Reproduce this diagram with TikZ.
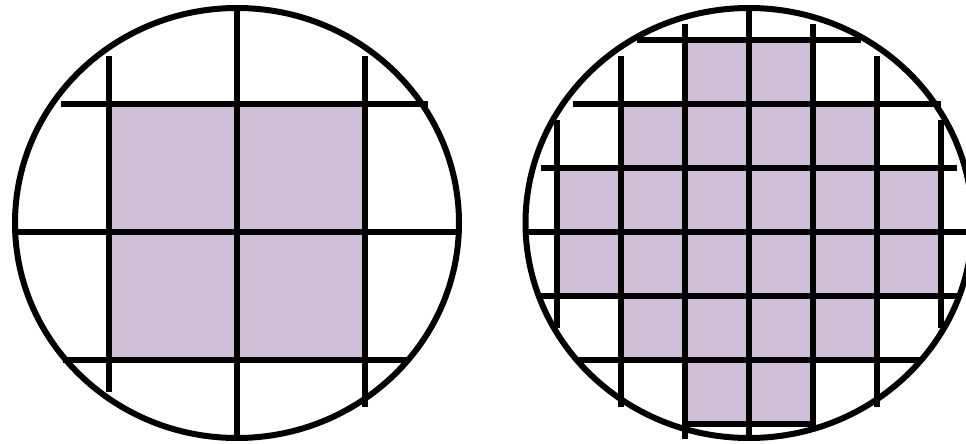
\documentclass[tikz,border=0pt]{standalone}
\begin{document}
\begin{tikzpicture}[x=1pt,y=-1pt,
  gridline/.style={line width=6pt,black},
  rim/.style={line width=6pt,black},
  cell/.style={fill=cellpurple}]
\definecolor{cellpurple}{RGB}{207,191,214}
\useasboundingbox (0,0) rectangle (966,444);
\clip (0,0) rectangle (966,444);
% ---------- left wafer ----------
\fill[cell] (109,104) rectangle (365,360);
\draw[gridline] (109,56) -- (109,392);
\draw[gridline] (237,8) -- (237,438);
\draw[gridline] (365,56) -- (365,407);
\draw[gridline] (61,104) -- (428,104);
\draw[gridline] (15,232) -- (460,232);
\draw[gridline] (63,360) -- (410,360);
\draw[rim] (237,223) ellipse [x radius=222, y radius=215];
% ---------- right wafer ----------
\fill[cell] (685,40) rectangle (813,104);
\fill[cell] (621,104) rectangle (877,168);
\fill[cell] (557,168) rectangle (941,296);
\fill[cell] (621,296) rectangle (877,360);
\fill[cell] (685,360) rectangle (813,424);
\draw[gridline] (557,120) -- (557,328);
\draw[gridline] (621,56) -- (621,407);
\draw[gridline] (685,24) -- (685,439);
\draw[gridline] (749,8) -- (749,438);
\draw[gridline] (813,24) -- (813,427);
\draw[gridline] (877,56) -- (877,407);
\draw[gridline] (941,120) -- (941,328);
\draw[gridline] (637,40) -- (861,40);
\draw[gridline] (573,104) -- (941,104);
\draw[gridline] (541,168) -- (957,168);
\draw[gridline] (525,232) -- (970,232);
\draw[gridline] (541,296) -- (957,296);
\draw[gridline] (576,360) -- (922,360);
\draw[gridline] (685,424) -- (816,424);
\draw[rim] (749,223) ellipse [x radius=223.5, y radius=215];
\end{tikzpicture}
\end{document}
